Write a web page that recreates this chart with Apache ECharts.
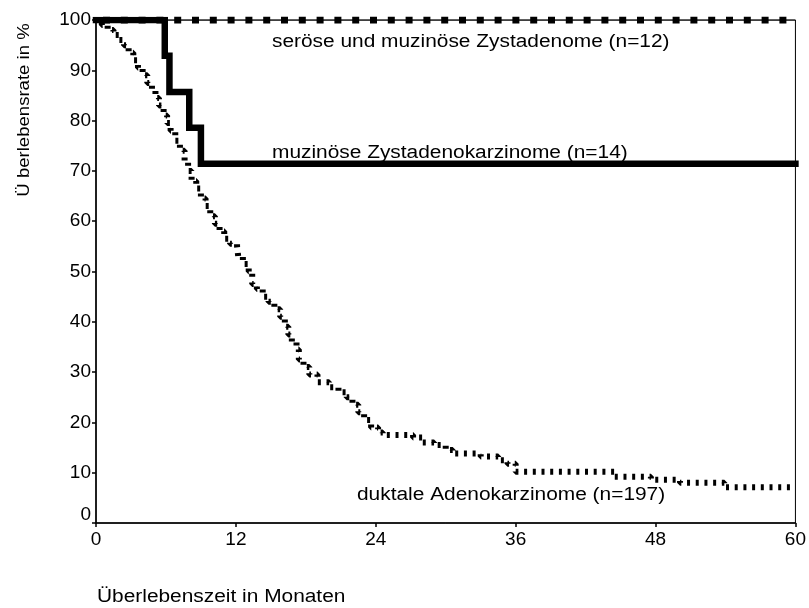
<!DOCTYPE html>
<html>
<head>
<meta charset="utf-8">
<script src="https://cdn.jsdelivr.net/npm/echarts@6/dist/echarts.min.js"></script>
<style>html,body{margin:0;padding:0;background:#fff}#c{width:809px;height:608px}</style>
</head>
<body>
<div id="c"></div>
<script>
// ---- data ----
const xTicks = [0, 12, 24, 36, 48, 60];
const yTicks = [0, 10, 20, 30, 40, 50, 60, 70, 80, 90, 100];

const serTime = [0, 60];
const serSurv = [100, 100];

const muzTime = [0, 5.9, 6.3, 8.0, 9.0, 60];
const muzSurv = [100, 92.9, 85.7, 78.6, 71.4, 71.4];

const dukTime = [0, 0.5, 1.0, 1.5, 2.0, 2.4, 2.8, 3.2, 3.6, 4.0, 4.4, 4.8, 5.1, 5.4, 5.8, 6.1, 6.4, 6.8, 7.2, 7.6, 7.9, 8.2, 8.6, 9.0, 9.4, 9.8, 10.2, 10.6, 11.0, 11.5, 12.1, 12.2, 12.6, 13.1, 13.4, 13.8, 14.3, 14.8, 15.3, 15.8, 16.2, 16.5, 16.8, 17.2, 17.4, 17.8, 18.3, 19.0, 20.0, 20.8, 21.5, 22.0, 22.5, 23.0, 23.6, 24.2, 24.6, 27.2, 28.0, 29.0, 30.0, 30.6, 33.0, 34.5, 35.3, 36.0, 44.5, 47.6, 50.1, 53.9, 60];
const dukSurv = [100, 99, 98, 97, 96, 95, 93.5, 92, 90.5, 89, 87.5, 86, 84.5, 83, 81, 79.5, 78, 76, 74, 72, 70, 68, 66.5, 64.5, 63, 61, 59.5, 58, 56.5, 55.5, 55, 53, 51.5, 50, 47.5, 46.5, 45, 44, 42.5, 41, 39, 37.5, 36, 34.5, 32.5, 31, 29.5, 28, 27, 26, 25, 23.5, 22, 20.5, 19, 18, 17.5, 17, 16, 15.5, 14.5, 13.8, 13.2, 12.5, 11.8, 10.2, 9.2, 8.6, 8.0, 7.1, 7.1];

const labelSer = 'seröse und muzinöse Zystadenome (n=12)';
const labelMuz = 'muzinöse Zystadenokarzinome (n=14)';
const labelDuk = 'duktale Adenokarzinome (n=197)';
const xTitle = 'Überlebenszeit in Monaten';
const yTitle = 'Ü berlebensrate in %';

// ---- chart ----
const pair = (xs, ys) => xs.map((x, i) => [x, ys[i]]);
const FONT = '"Liberation Sans", Arial, sans-serif';

const chart = echarts.init(document.getElementById('c'), null, { renderer: 'canvas' });

function txt(text, x, y, size, opts) {
  return Object.assign({
    type: 'text', x: x, y: y, scaleX: 1.16, silent: true,
    style: {
      text: text, fill: '#000',
      font: size + 'px ' + FONT,
      textAlign: 'left', textVerticalAlign: 'middle', verticalAlign: 'middle'
    }
  }, opts || {});
}

chart.setOption({
  animation: false,
  backgroundColor: '#fff',
  grid: { left: 96, right: 11, top: 20, bottom: 85, show: true, borderColor: '#000', borderWidth: 1, backgroundColor: 'transparent' },
  xAxis: {
    type: 'value', min: xTicks[0], max: xTicks[xTicks.length - 1], interval: 12,
    axisLine: { show: true, onZero: false, lineStyle: { color: '#000', width: 1.5 } },
    axisTick: { show: true, inside: false, length: 4, lineStyle: { color: '#000', width: 1.5 } },
    axisLabel: { color: '#000', fontFamily: FONT, fontSize: 19, margin: 7 },
    splitLine: { show: false }
  },
  yAxis: {
    type: 'value', min: yTicks[0], max: yTicks[yTicks.length - 1], interval: 10,
    axisLine: { show: true, onZero: false, lineStyle: { color: '#000', width: 1.5 } },
    axisTick: { show: true, inside: false, length: 4, lineStyle: { color: '#000', width: 1.5 } },
    axisLabel: {
      color: '#000', fontFamily: FONT, fontSize: 19, margin: 5,
      formatter: v => (v === 0 ? '{z|0}' : String(v)),
      rich: { z: { color: '#000', fontFamily: FONT, fontSize: 19, padding: [0, 0, 16, 0] } }
    },
    splitLine: { show: false }
  },
  series: [
    { type: 'line', data: pair(serTime, serSurv), symbol: 'none', silent: true,
      lineStyle: { color: '#000', width: 1 }, z: 2 },
    { type: 'line', data: pair(serTime, serSurv), symbol: 'none', silent: true,
      lineStyle: { color: '#000', width: 7, type: [7, 10.8], dashOffset: 10.8, cap: 'butt' }, z: 3 },
    { type: 'line', step: 'end', data: pair(muzTime, muzSurv), symbol: 'none', silent: true,
      lineStyle: { color: '#000', width: 6.5, join: 'miter', cap: 'square' }, z: 4 },
    { type: 'line', step: 'end', data: pair(dukTime, dukSurv), symbol: 'none', silent: true,
      lineStyle: { color: '#000', width: 6, type: [3, 5.7], cap: 'butt' }, z: 5 }
  ],
  graphic: [
    txt(labelSer, 272, 42, 18),
    txt(labelMuz, 272, 153, 18),
    txt(labelDuk, 357, 495, 18),
    txt(xTitle, 97, 597, 18),
    txt(yTitle, 25, 110, 16, { rotation: Math.PI / 2, style: {
      text: yTitle, fill: '#000', font: '16px ' + FONT,
      textAlign: 'center', textVerticalAlign: 'middle', verticalAlign: 'middle' } })
  ]
});
</script>
</body>
</html>
